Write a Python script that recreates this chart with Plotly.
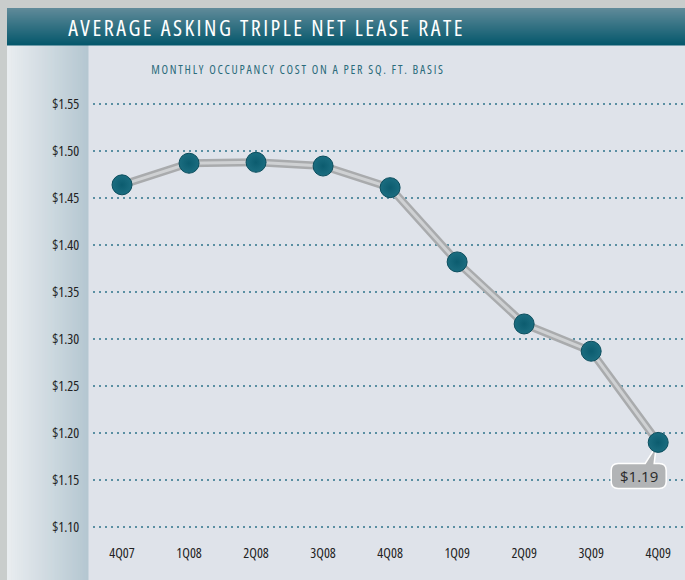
import plotly.graph_objects as go

quarters = ["4Q07", "1Q08", "2Q08", "3Q08", "4Q08", "1Q09", "2Q09", "3Q09", "4Q09"]
rates = [1.464, 1.487, 1.488, 1.484, 1.461, 1.382, 1.316, 1.287, 1.190]
y_tick_vals = [1.10, 1.15, 1.20, 1.25, 1.30, 1.35, 1.40, 1.45, 1.50, 1.55]
y_tick_text = ["$1.10", "$1.15", "$1.20", "$1.25", "$1.30", "$1.35", "$1.40", "$1.45", "$1.50", "$1.55"]
title_text = "AVERAGE ASKING TRIPLE NET LEASE RATE"
subtitle_text = "MONTHLY OCCUPANCY COST ON A PER SQ. FT. BASIS"
callout_text = "$1.19"

W, H = 685, 580
L, R, T, B = 93, 0, 90, 45
PW, PH = W - L - R, H - T - B

def px(x):
    return (x - L) / PW

def py(y):
    return (H - B - y) / PH

def lerp(c1, c2, t):
    return "rgb(%d,%d,%d)" % tuple(round(a + (b - a) * t) for a, b in zip(c1, c2))

FONT = "Open Sans, DejaVu Sans Condensed, sans-serif"

shapes = []
shapes.append(dict(type="rect", xref="paper", yref="paper", x0=px(7), x1=px(W), y0=py(45), y1=py(H),
                   fillcolor="#dfe3ea", line=dict(width=0), layer="below"))
n = 40
x_start, x_end = 7, 88
for i in range(n):
    x0 = x_start + (x_end - x_start) * i / n
    x1 = x_start + (x_end - x_start) * (i + 1) / n + 0.5
    shapes.append(dict(type="rect", xref="paper", yref="paper", x0=px(x0), x1=px(x1), y0=py(45), y1=py(H),
                       fillcolor=lerp((233, 237, 240), (181, 199, 209), i / (n - 1)),
                       line=dict(width=0), layer="below"))
y_top, y_bot = 8, 45
m = 37
for i in range(m):
    y0 = y_top + (y_bot - y_top) * i / m
    y1 = y_top + (y_bot - y_top) * (i + 1) / m + 0.5
    shapes.append(dict(type="rect", xref="paper", yref="paper", x0=px(7), x1=px(W), y0=py(y1), y1=py(y0),
                       fillcolor=lerp((95, 138, 153), (6, 88, 108), i / (m - 1)),
                       line=dict(width=0), layer="below"))

# rounded callout bubble anchored (in pixel offsets) to the last data point
bx0, bx1, btop, bbot, r = -47, 8, -21, -46, 7
bubble = (f"M {bx0 + r},{btop} L -13,{btop} L -2,-4 L -4,{btop} L {bx1 - r},{btop} "
          f"Q {bx1},{btop} {bx1},{btop - r} L {bx1},{bbot + r} Q {bx1},{bbot} {bx1 - r},{bbot} "
          f"L {bx0 + r},{bbot} Q {bx0},{bbot} {bx0},{bbot + r} L {bx0},{btop - r} "
          f"Q {bx0},{btop} {bx0 + r},{btop} Z")
shapes.append(dict(type="path", xref="x", yref="y", xsizemode="pixel", ysizemode="pixel",
                   xanchor=quarters[-1], yanchor=rates[-1], path=bubble,
                   fillcolor="#b2b4b6", line=dict(color="white", width=1.5), layer="between"))

fig = go.Figure()
fig.add_trace(go.Scatter(x=quarters, y=rates, mode="lines",
                         line=dict(color="#a9abad", width=8), hoverinfo="skip"))
fig.add_trace(go.Scatter(x=quarters, y=rates, mode="lines",
                         line=dict(color="#cfd1d3", width=3), hoverinfo="skip"))
fig.add_trace(go.Scatter(x=quarters, y=rates, mode="markers",
                         marker=dict(size=20, color="#1b6d80",
                                     gradient=dict(type="radial", color="#0c5c6f"),
                                     line=dict(color="#0a4d5d", width=1))))

annotations = [
    dict(text=title_text, xref="paper", yref="paper", x=px(266), y=py(27), showarrow=False,
         font=dict(family=FONT, size=22, color="white"),
         xanchor="center", yanchor="middle"),
    dict(text=subtitle_text, xref="paper", yref="paper", x=px(298), y=py(69), showarrow=False,
         font=dict(family=FONT, size=12, color="#2b6b7b"),
         xanchor="center", yanchor="middle"),
    dict(text=callout_text, x=quarters[-1], y=rates[-1], showarrow=False,
         xshift=-19.5, yshift=-33.5, xanchor="center", yanchor="middle",
         font=dict(family=FONT, size=15, color="#2a2a2a")),
]

fig.update_layout(
    width=W, height=H,
    margin=dict(l=L, r=R, t=T, b=B, pad=0),
    paper_bgcolor="#c9cdcc",
    plot_bgcolor="rgba(0,0,0,0)",
    showlegend=False,
    shapes=shapes,
    annotations=annotations,
    xaxis=dict(type="category", range=[-0.433, 8.4], showgrid=False, zeroline=False, showline=False,
               tickvals=quarters, ticktext=quarters, ticks="outside", ticklen=5,
               tickcolor="rgba(0,0,0,0)",
               tickfont=dict(family=FONT, size=14, color="#222222")),
    yaxis=dict(range=[1.10 - 8 / 940, 1.55 + 14 / 940], tickvals=y_tick_vals, ticktext=y_tick_text,
               showgrid=True, gridcolor="#5a8fa2", gridwidth=2, griddash="2px,4px",
               zeroline=False, showline=False, ticks="outside", ticklen=10,
               tickcolor="rgba(0,0,0,0)",
               tickfont=dict(family=FONT, size=14, color="#222222")),
)

post = """
document.body.style.margin='0';
document.body.style.overflow='hidden';
document.querySelectorAll('svg text').forEach(function(t){ t.style.fontStretch='condensed'; });
var ts = document.querySelectorAll('.annotation-text');
if (ts.length > 2) {
  ts[0].style.letterSpacing = '2.5px';
  ts[1].style.letterSpacing = '1.75px';
  ts[2].style.fontStretch = 'normal';
}
"""

fig.write_html("out.html", post_script=post, config={"displayModeBar": False})
